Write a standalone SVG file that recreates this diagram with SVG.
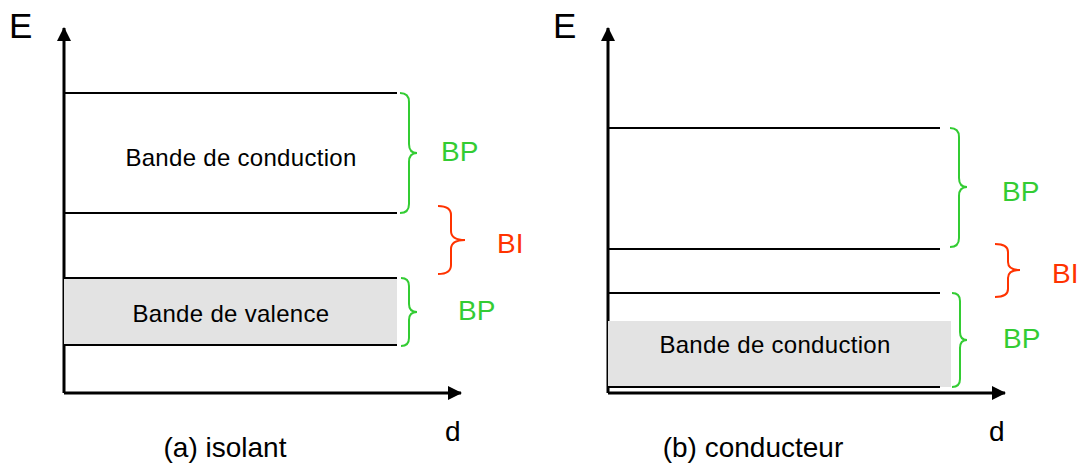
<svg xmlns="http://www.w3.org/2000/svg" width="1084" height="464" viewBox="0 0 1084 464">
<defs>
<marker id="ah" markerWidth="14" markerHeight="14" refX="13" refY="7" orient="auto" markerUnits="userSpaceOnUse">
<path d="M0,0 L14,7 L0,14 Z" fill="#000"/>
</marker>
<style>
text{font-family:"Liberation Sans",Arial,sans-serif}
.axis{stroke:#000;stroke-width:3;fill:none}
.lvl{stroke:#000;stroke-width:2;fill:none}
.band{fill:#e3e3e3;stroke:none}
.lbl{font-size:24px;fill:#000;text-anchor:middle;letter-spacing:0.3px}
.big{font-size:35px;fill:#000}
.d{font-size:28px;fill:#000}
.cap{font-size:28px;fill:#000;text-anchor:middle}
.gb{stroke:#33cc33;stroke-width:2;fill:none}
.rb{stroke:#ff3300;stroke-width:2;fill:none}
.gt{font-size:28px;fill:#33cc33}
.rt{font-size:28px;fill:#ff3300}
</style>
</defs>
<g id="connectors">
<line class="axis" x1="64" y1="393" x2="64" y2="28" marker-end="url(#ah)"/>
<line class="axis" x1="64" y1="393" x2="461" y2="393" marker-end="url(#ah)"/>
<line class="axis" x1="608" y1="393" x2="608" y2="28" marker-end="url(#ah)"/>
<line class="axis" x1="608" y1="393" x2="1005" y2="393" marker-end="url(#ah)"/>
</g>
<g id="panel-a">
<text class="big" x="9" y="38">E</text>
<g id="a-conduction">
<line class="lvl" x1="64" y1="93" x2="397" y2="93"/>
<line class="lvl" x1="64" y1="213" x2="397" y2="213"/>
<text class="lbl" x="241" y="166">Bande de conduction</text>
</g>
<g id="a-valence">
<rect class="band" x="64" y="278" width="333" height="67"/>
<line class="lvl" x1="64" y1="278" x2="397" y2="278"/>
<line class="lvl" x1="64" y1="345" x2="397" y2="345"/>
<text class="lbl" x="231" y="322">Bande de valence</text>
</g>
<g id="a-bp1">
<path class="gb" d="M400,93 Q409,93 409,102 L409,144 Q409,153 417,153 Q409,153 409,162 L409,204 Q409,213 400,213"/>
<text class="gt" x="441" y="161">BP</text>
</g>
<g id="a-bi">
<path class="rb" d="M438,206 Q451,206 451,215 L451,231 Q451,240 465,240 Q451,240 451,249 L451,265 Q451,274 438,274"/>
<text class="rt" x="497" y="253">BI</text>
</g>
<g id="a-bp2">
<path class="gb" d="M401,278 Q409,278 409,286 L409,304 Q409,312 417,312 Q409,312 409,320 L409,338 Q409,346 401,346"/>
<text class="gt" x="458" y="320">BP</text>
</g>
<text class="d" x="445" y="441">d</text>
<text class="cap" x="225" y="457">(a) isolant</text>
</g>
<g id="panel-b">
<text class="big" x="553" y="38">E</text>
<g id="b-levels">
<line class="lvl" x1="608" y1="128" x2="940" y2="128"/>
<line class="lvl" x1="608" y1="249" x2="940" y2="249"/>
</g>
<g id="b-conduction">
<rect class="band" x="608" y="321" width="343" height="66"/>
<line class="lvl" x1="608" y1="293" x2="940" y2="293"/>
<line class="lvl" x1="608" y1="387" x2="940" y2="387"/>
<text class="lbl" x="775" y="353">Bande de conduction</text>
</g>
<g id="b-bp1">
<path class="gb" d="M950,128 Q959,128 959,137 L959,178 Q959,187 967,187 Q959,187 959,196 L959,238 Q959,247 950,247"/>
<text class="gt" x="1002" y="201">BP</text>
</g>
<g id="b-bi">
<path class="rb" d="M995,244 Q1008,244 1008,252 L1008,262 Q1008,270 1020,270 Q1008,270 1008,278 L1008,289 Q1008,297 995,297"/>
<text class="rt" x="1052" y="283">BI</text>
</g>
<g id="b-bp2">
<path class="gb" d="M952,293 Q960,293 960,301 L960,332 Q960,340 967,340 Q960,340 960,348 L960,379 Q960,387 952,387"/>
<text class="gt" x="1003" y="348">BP</text>
</g>
<text class="d" x="989" y="441">d</text>
<text class="cap" x="753" y="457">(b) conducteur</text>
</g>
</svg>
